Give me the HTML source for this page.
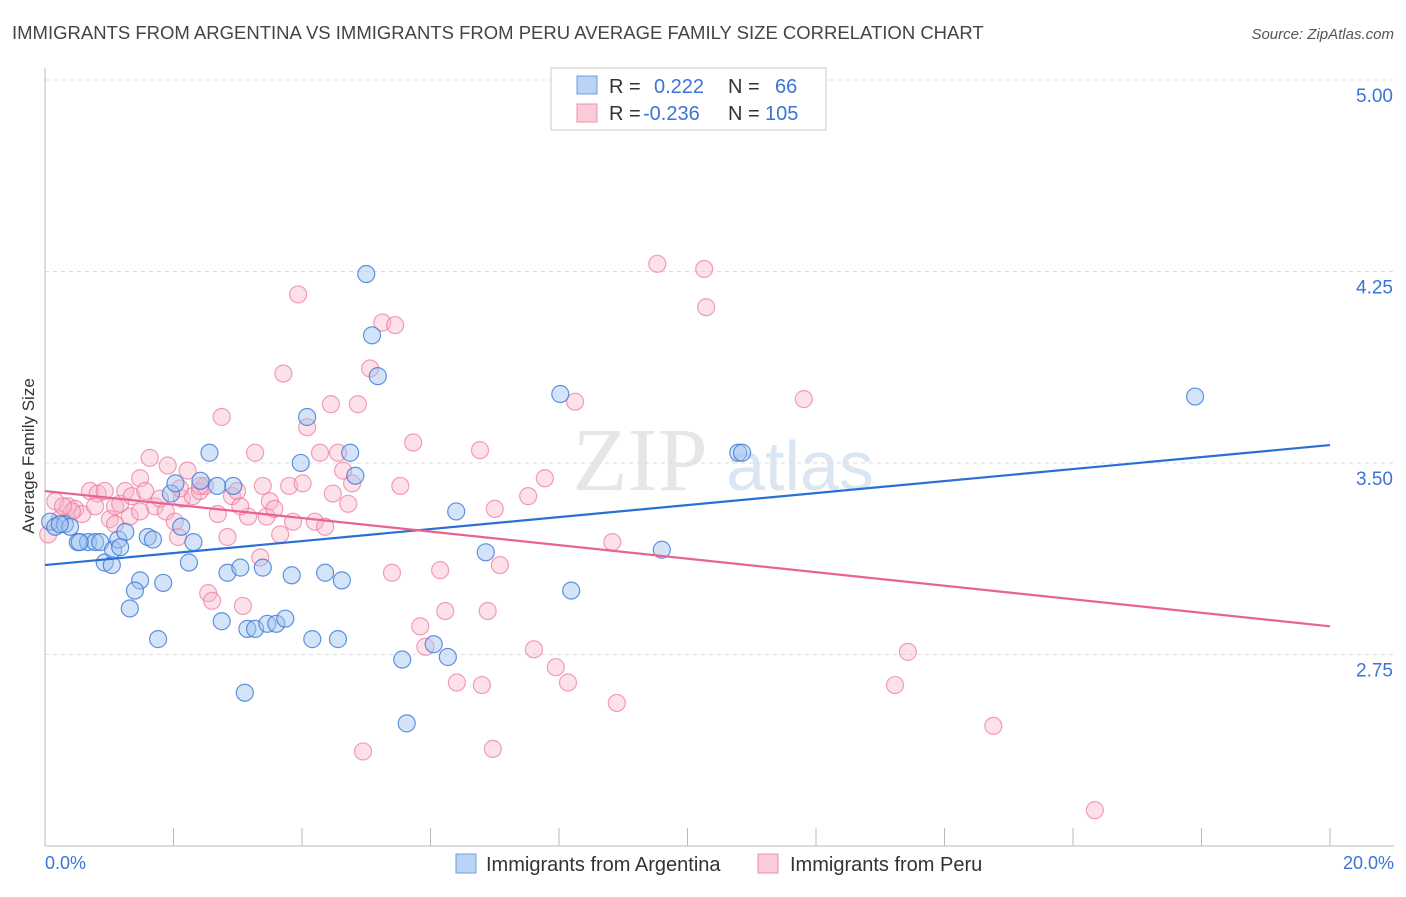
<!DOCTYPE html>
<html><head><meta charset="utf-8"><style>
body{margin:0;background:#fff;font-family:"Liberation Sans",sans-serif;}
</style></head><body>
<svg id="c" width="1406" height="892" xmlns="http://www.w3.org/2000/svg">
<text x="12" y="39" font-size="18.5" fill="#444">IMMIGRANTS FROM ARGENTINA VS IMMIGRANTS FROM PERU AVERAGE FAMILY SIZE CORRELATION CHART</text>
<text x="1394" y="39" font-size="15" fill="#555" font-style="italic" text-anchor="end">Source: ZipAtlas.com</text>
<text x="640" y="490" font-size="90" fill="#e6e6e6" font-family="Liberation Serif" text-anchor="middle">ZIP</text>
<text x="800" y="490" font-size="70" fill="#dbe6f3" text-anchor="middle">atlas</text>
<g id="grid"></g>
<line x1="45" y1="68" x2="45" y2="846" stroke="#bbb"/>
<line x1="45" y1="846" x2="1394" y2="846" stroke="#bbb"/>
<text x="34" y="456" font-size="17" fill="#333" text-anchor="middle" transform="rotate(-90 34 456)">Average Family Size</text>
<text x="45" y="869" font-size="18" fill="#3b73d8">0.0%</text>
<text x="1394" y="869" font-size="18" fill="#3b73d8" text-anchor="end">20.0%</text>
<g id="pts"></g>
<g id="lines"></g>
<g>
<rect x="551" y="68" width="275" height="62" fill="#fff" stroke="#ccc"/>
<rect x="577" y="76" width="20" height="18" fill="#b9d3f5" stroke="#6d9de0"/>
<rect x="577" y="104" width="20" height="18" fill="#fbcbd8" stroke="#ee90aa"/>
<text x="609" y="93" font-size="20" fill="#333">R = <tspan fill="#3b73d8" x="654">0.222</tspan><tspan x="728" fill="#333">N =</tspan><tspan x="775" fill="#3b73d8">66</tspan></text>
<text x="609" y="120" font-size="20" fill="#333">R = <tspan fill="#3b73d8" x="643">-0.236</tspan><tspan x="728" fill="#333">N =</tspan><tspan x="765" fill="#3b73d8">105</tspan></text>
</g>
<g>
<rect x="456" y="854" width="20" height="19" fill="#b9d3f5" stroke="#6d9de0"/>
<text x="486" y="871" font-size="20" fill="#333">Immigrants from Argentina</text>
<rect x="758" y="854" width="20" height="19" fill="#fbcbd8" stroke="#ee90aa"/>
<text x="790" y="871" font-size="20" fill="#333">Immigrants from Peru</text>
</g>
</svg>
<script>
const yTicks=[2.75,3.50,4.25,5.00];
const yTickLabels=["2.75","3.50","4.25","5.00"];
const blueX=[0.08,0.16,0.31,0.39,0.51,0.67,0.78,0.86,0.93,1.04,1.06,1.14,1.25,1.32,1.48,1.60,1.68,1.40,1.76,1.84,1.96,2.03,2.12,2.24,2.31,2.42,2.56,2.68,2.75,2.84,2.93,3.04,3.11,3.15,3.27,3.39,3.46,3.60,3.74,3.84,3.98,4.08,4.16,4.36,4.56,4.62,4.75,4.83,5.00,5.09,5.18,5.56,5.63,6.05,6.27,6.40,6.86,8.02,8.19,9.60,10.79,10.85,17.90,0.23,0.54,1.17];
const blueY=[3.27,3.25,3.26,3.25,3.19,3.19,3.19,3.19,3.11,3.10,3.16,3.20,3.23,2.93,3.04,3.21,3.20,3.00,2.81,3.03,3.38,3.42,3.25,3.11,3.19,3.43,3.54,3.41,2.88,3.07,3.41,3.09,2.60,2.85,2.85,3.09,2.87,2.87,2.89,3.06,3.50,3.68,2.81,3.07,2.81,3.04,3.54,3.45,4.24,4.00,3.84,2.73,2.48,2.79,2.74,3.31,3.15,3.77,3.00,3.16,3.54,3.54,3.76,3.26,3.19,3.17];
const pinkX=[0.05,0.16,0.23,0.36,0.47,0.58,0.70,0.82,0.93,1.01,1.09,1.17,1.25,1.35,1.48,1.56,1.63,1.71,1.79,1.88,1.91,2.02,2.07,2.13,2.22,2.30,2.41,2.49,2.54,2.60,2.69,2.75,2.84,2.91,2.99,3.08,3.16,3.27,3.35,3.39,3.45,3.50,3.57,3.66,3.71,3.80,3.86,3.94,4.01,4.08,4.20,4.28,4.36,4.45,4.48,4.56,4.64,4.72,4.78,4.87,4.95,5.06,5.25,5.45,5.40,5.53,5.73,5.84,5.92,6.15,6.23,6.41,6.77,6.80,6.89,6.97,7.00,7.08,7.52,7.61,7.78,7.95,8.14,8.25,8.83,8.90,9.53,10.29,10.26,11.81,13.23,13.43,14.76,16.34,2.41,1.32,0.78,0.42,0.28,1.09,1.48,3.04,2.10];
const pinkY=[3.22,3.35,3.28,3.33,3.32,3.30,3.39,3.38,3.39,3.28,3.33,3.34,3.39,3.37,3.44,3.39,3.52,3.33,3.36,3.31,3.49,3.27,3.21,3.36,3.47,3.37,3.39,3.41,2.99,2.96,3.30,3.68,3.21,3.37,3.39,2.94,3.29,3.54,3.13,3.41,3.29,3.35,3.32,3.22,3.85,3.41,3.27,4.16,3.42,3.64,3.27,3.54,3.25,3.73,3.38,3.54,3.47,3.34,3.42,3.73,2.37,3.87,4.05,4.04,3.07,3.41,3.58,2.86,2.78,3.08,2.92,2.64,3.55,2.63,2.92,2.38,3.32,3.10,3.37,2.77,3.44,2.70,2.64,3.74,3.19,2.56,4.28,4.11,4.26,3.75,2.63,2.76,2.47,2.14,3.41,3.29,3.33,3.31,3.33,3.26,3.31,3.33,3.40];
const blueLine=[3.10,3.57];
const pinkLine=[3.39,2.86];
const sx=v=>45+v/20*1285;
const sy=v=>80+(5-v)*255.3;
const NS="http://www.w3.org/2000/svg";
const grid=document.getElementById('grid');
yTicks.forEach((t,i)=>{
  const l=document.createElementNS(NS,'line');
  l.setAttribute('x1',45);l.setAttribute('x2',1394);l.setAttribute('y1',sy(t));l.setAttribute('y2',sy(t));
  l.setAttribute('stroke','#ddd');l.setAttribute('stroke-dasharray','4,4');
  
  
  grid.appendChild(l);
  const tx=document.createElementNS(NS,'text');
  tx.setAttribute('x',1393);tx.setAttribute('y',sy(t)+22);tx.setAttribute('text-anchor','end');
  tx.setAttribute('font-size','19');tx.setAttribute('fill','#3b73d8');tx.textContent=yTickLabels[i];
  
  
  grid.appendChild(tx);
});
for(let i=1;i<=10;i++){
  const l=document.createElementNS(NS,'line');
  const x=sx(i*2);
  l.setAttribute('x1',x);l.setAttribute('x2',x);l.setAttribute('y1',828);l.setAttribute('y2',846);
  l.setAttribute('stroke','#bbb');
  
  
  grid.appendChild(l);
}
const pts=document.getElementById('pts');
function dots(xs,ys,fill,stroke,name){
  xs.forEach((x,i)=>{
    const c=document.createElementNS(NS,'circle');
    c.setAttribute('cx',sx(x));c.setAttribute('cy',sy(ys[i]));c.setAttribute('r',8.5);
    c.setAttribute('fill',fill);c.setAttribute('stroke',stroke);c.setAttribute('stroke-width','1.2');
    
    
    pts.appendChild(c);
  });
}
dots(pinkX,pinkY,'rgba(248,180,200,0.4)','rgba(236,120,155,0.7)','peru-point');
dots(blueX,blueY,'rgba(160,195,240,0.45)','rgba(60,120,215,0.8)','argentina-point');
const lines=document.getElementById('lines');
function trend(v,col,name){
  const l=document.createElementNS(NS,'line');
  l.setAttribute('x1',sx(0));l.setAttribute('x2',sx(20));l.setAttribute('y1',sy(v[0]));l.setAttribute('y2',sy(v[1]));
  l.setAttribute('stroke',col);l.setAttribute('stroke-width','2.2');
  
  
  lines.appendChild(l);
}
trend(blueLine,'#2a6fd6','argentina-trendline');
trend(pinkLine,'#e8648e','peru-trendline');
</script>
</body></html>
